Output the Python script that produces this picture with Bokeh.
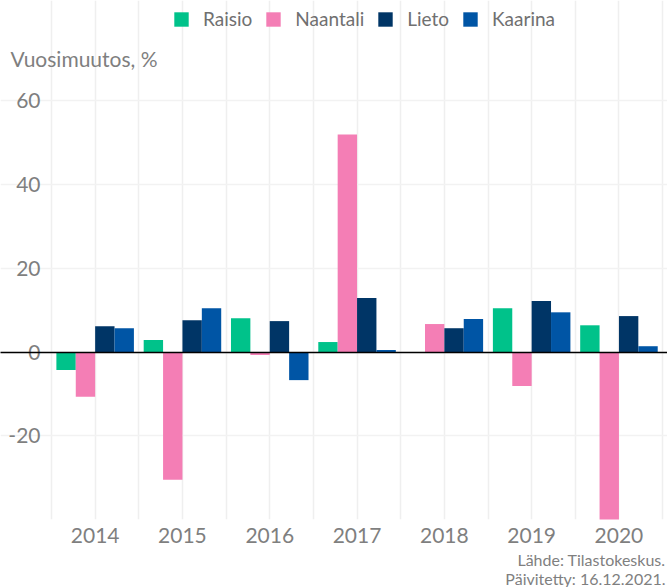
from bokeh.plotting import figure
from bokeh.models import (ColumnDataSource, Legend, LegendItem, Title, FixedTicker, Range1d,
                          Label, Grid)
from bokeh.core.properties import value
from bokeh.transform import dodge
from bokeh.embed import file_html
from bokeh.resources import INLINE

years = [2014, 2015, 2016, 2017, 2018, 2019, 2020]
raisio = [-4.3, 2.9, 8.1, 2.4, 0.0, 10.5, 6.4]
naantali = [-10.7, -30.5, -0.7, 52.0, 6.7, -8.1, -42.0]
lieto = [6.2, 7.6, 7.4, 12.9, 5.7, 12.2, 8.6]
kaarina = [5.7, 10.5, -6.7, 0.5, 7.9, 9.5, 1.4]
series = ["Raisio", "Naantali", "Lieto", "Kaarina"]
colors = ["#00c28a", "#f47eb5", "#003566", "#0055a5"]
y_ticks = [-20, 0, 20, 40, 60]
y_tick_labels = ["-20", "0", "20", "40", "60"]
caption1 = "Lähde: Tilastokeskus."
caption2 = "Päivitetty: 16.12.2021."
y_min, y_max = -40, 66

FONT = "Lato"
GRAY = "#7f7f7f"
PX = 87.3  # pixels per category (layout constant)

src = ColumnDataSource(dict(year=years, Raisio=raisio, Naantali=naantali, Lieto=lieto, Kaarina=kaarina))

x0 = years[0] - 0.5
p = figure(width=667, height=587, output_backend="svg", toolbar_location=None,
           x_range=Range1d(x0 - 51 / PX, x0 + 616 / PX), y_range=Range1d(y_min, 84),
           min_border_left=0, min_border_right=0, min_border_top=0, min_border_bottom=68)
p.outline_line_color = None
p.yaxis.visible = False

w = 0.222
offsets = [-0.333, -0.111, 0.111, 0.333]
items = []
for name, col, off in zip(series, colors, offsets):
    r = p.vbar(x=dodge("year", off), top=name, bottom=0, width=w, source=src,
               fill_color=col, line_color=None)
    items.append(LegendItem(label=name, renderers=[r]))

# x axis
xa = p.xaxis[0]
xa.ticker = FixedTicker(ticks=years)
xa.axis_line_color = None
xa.major_tick_line_color = None
xa.minor_tick_line_color = None
xa.major_label_text_font = FONT
xa.major_label_text_font_size = "21px"
xa.major_label_text_color = GRAY
xa.major_label_standoff = 2

# y tick labels
ysrc = ColumnDataSource(dict(y=y_ticks, t=y_tick_labels, x=[x0 - 11 / PX] * len(y_ticks)))
p.text(x="x", y="y", text="t", source=ysrc, text_font=value(FONT), text_font_size="21px",
       text_color=GRAY, text_align="right", text_baseline="middle")

# grids
half = [x0 + i * 0.5 for i in range(2 * len(years) + 1)]
p.xgrid.ticker = FixedTicker(ticks=half)
p.xgrid.bounds = (y_min, y_max)
p.xgrid.grid_line_color = "#efefef"
p.xgrid.grid_line_width = 1.5
p.ygrid.ticker = FixedTicker(ticks=y_ticks)
p.ygrid.bounds = (x0, x0 + 10)
p.ygrid.grid_line_color = "#f2f2f2"
p.ygrid.grid_line_width = 1.5
zero = Grid(dimension=1, ticker=FixedTicker(ticks=[0]), bounds=(x0, x0 + 10),
            grid_line_color="black", grid_line_width=1.5, level="annotation")
p.add_layout(zero)

# y-axis caption
p.add_layout(Label(x=x0 - 41 / PX, y=70.2, text="Vuosimuutos, %",
                   text_font=FONT, text_font_size="21px", text_color=GRAY,
                   text_baseline="middle", text_align="left"))

legend = Legend(items=items, orientation="horizontal", location=(172, 489),
                label_text_font=FONT, label_text_font_size="19px", label_text_color="#707070",
                glyph_width=18, glyph_height=18, label_standoff=13, spacing=12,
                border_line_color=None, background_fill_alpha=0, padding=2, margin=0)
p.add_layout(legend)

for cap, so in ((caption1, 5), (caption2, -10)):
    p.add_layout(Title(text=cap, align="right", text_font=FONT, text_font_size="16px",
                       text_font_style="normal", text_color=GRAY, standoff=so, offset=2),
                 "below")

open("out.html", "w").write(file_html(p, INLINE))
